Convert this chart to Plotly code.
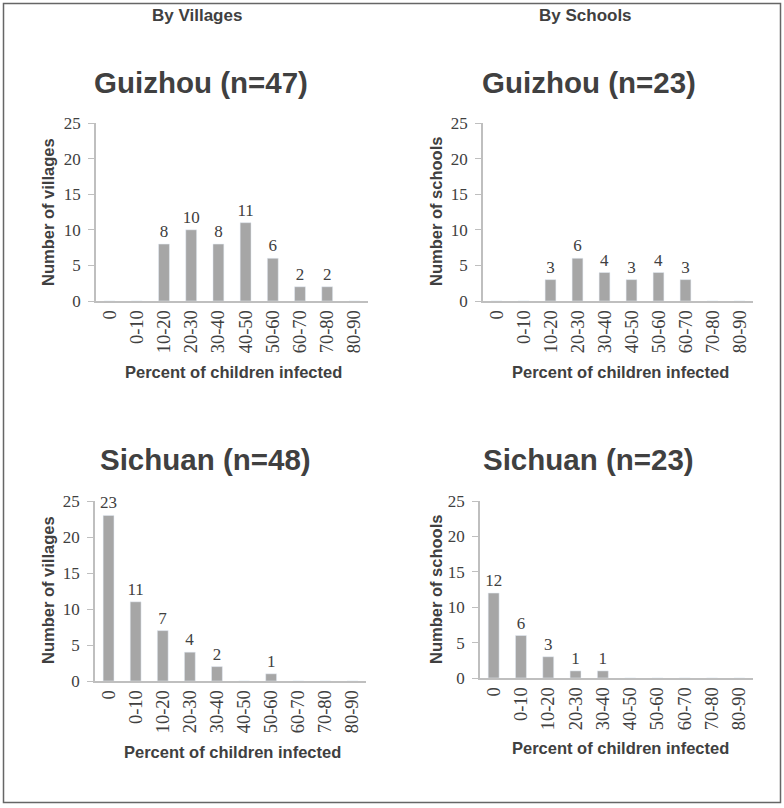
import plotly.graph_objects as go

W, H = 784, 808

categories = ["0", "0-10", "10-20", "20-30", "30-40", "40-50", "50-60", "60-70", "70-80", "80-90"]
guizhou_villages = [0, 0, 8, 10, 8, 11, 6, 2, 2, 0]
guizhou_schools = [0, 0, 3, 6, 4, 3, 4, 3, 0, 0]
sichuan_villages = [23, 11, 7, 4, 2, 0, 1, 0, 0, 0]
sichuan_schools = [12, 6, 3, 1, 1, 0, 0, 0, 0, 0]

panel_titles = ["Guizhou (n=47)", "Guizhou (n=23)", "Sichuan (n=48)", "Sichuan (n=23)"]
y_titles = ["Number of villages", "Number of schools", "Number of villages", "Number of schools"]
x_title = "Percent of children infected"

BAR = "#a6a6a6"
TXT = "#404040"
AXC = "#bfbfbf"
SERIF = "Liberation Serif"
SANS = "Liberation Sans"


def px(x):
    return x / W


def py(y):
    return 1 - y / H


# pixel boxes of each plot area: (left, right, top(25), bottom(0))
boxes = [
    (96, 368, 123, 301),
    (483, 753, 123, 301),
    (95, 366, 501, 681),
    (480, 753, 501, 678),
]
series = [guizhou_villages, guizhou_schools, sichuan_villages, sichuan_schools]

fig = go.Figure()
layout = {}
for i, (vals, box) in enumerate(zip(series, boxes)):
    n = "" if i == 0 else str(i + 1)
    l, r, t, b = box
    fig.add_trace(go.Bar(
        x=categories, y=vals,
        text=[str(v) if v else "" for v in vals],
        textposition="outside", cliponaxis=False, constraintext="none",
        textfont=dict(family=SERIF, size=17, color=TXT),
        marker_color=BAR, width=0.4,
        xaxis="x" + n, yaxis="y" + n, showlegend=False,
    ))
    layout["xaxis" + n] = dict(
        domain=[px(l), px(r)], anchor="y" + n, tickangle=-90,
        showline=True, linecolor=AXC, linewidth=1.5, ticks="",
        tickfont=dict(family=SERIF, size=18.5, color=TXT),
        showgrid=False, zeroline=False, fixedrange=True, automargin=False,
    )
    layout["yaxis" + n] = dict(
        domain=[py(b), py(t)], anchor="x" + n, range=[0, 25],
        tickvals=[0, 5, 10, 15, 20, 25],
        showline=True, linecolor=AXC, linewidth=1.5,
        ticks="outside", ticklen=6, tickcolor=AXC, ticklabelstandoff=4,
        tickfont=dict(family=SERIF, size=17, color=TXT),
        showgrid=False, zeroline=False, fixedrange=True, automargin=False,
    )

annotations = []


def note(text, x, y, size, angle=0):
    annotations.append(dict(
        text="<b>%s</b>" % text, x=px(x), y=py(y), xref="paper", yref="paper",
        showarrow=False, textangle=angle, xanchor="center", yanchor="middle",
        font=dict(family=SANS, size=size, color=TXT),
    ))


note("By Villages", 197, 15, 17)
note("By Schools", 585, 15, 17)

title_pos = [(201, 83), (589, 83), (205, 460), (588, 460)]
ytitle_pos = [(48, 212), (436, 212), (48, 590), (436, 590)]
xtitle_pos = [(233, 372), (620, 372), (232, 752), (620, 748)]
for i in range(4):
    note(panel_titles[i], *title_pos[i], 29.5)
    note(y_titles[i], *ytitle_pos[i], 16.5, angle=-90)
    note(x_title, *xtitle_pos[i], 16.5)

fig.update_layout(
    **layout,
    width=W, height=H,
    margin=dict(l=0, r=0, t=0, b=0, autoexpand=False),
    paper_bgcolor="white", plot_bgcolor="white",
    bargap=0.6,
    annotations=annotations,
    shapes=[dict(type="rect", xref="paper", yref="paper",
                 x0=px(3.5), x1=px(780.5), y0=py(802.5), y1=py(3.5),
                 line=dict(color="#666666", width=1.5))],
)

fig.write_html("out.html", config={"displayModeBar": False},
               post_script="document.body.style.margin='0';")
